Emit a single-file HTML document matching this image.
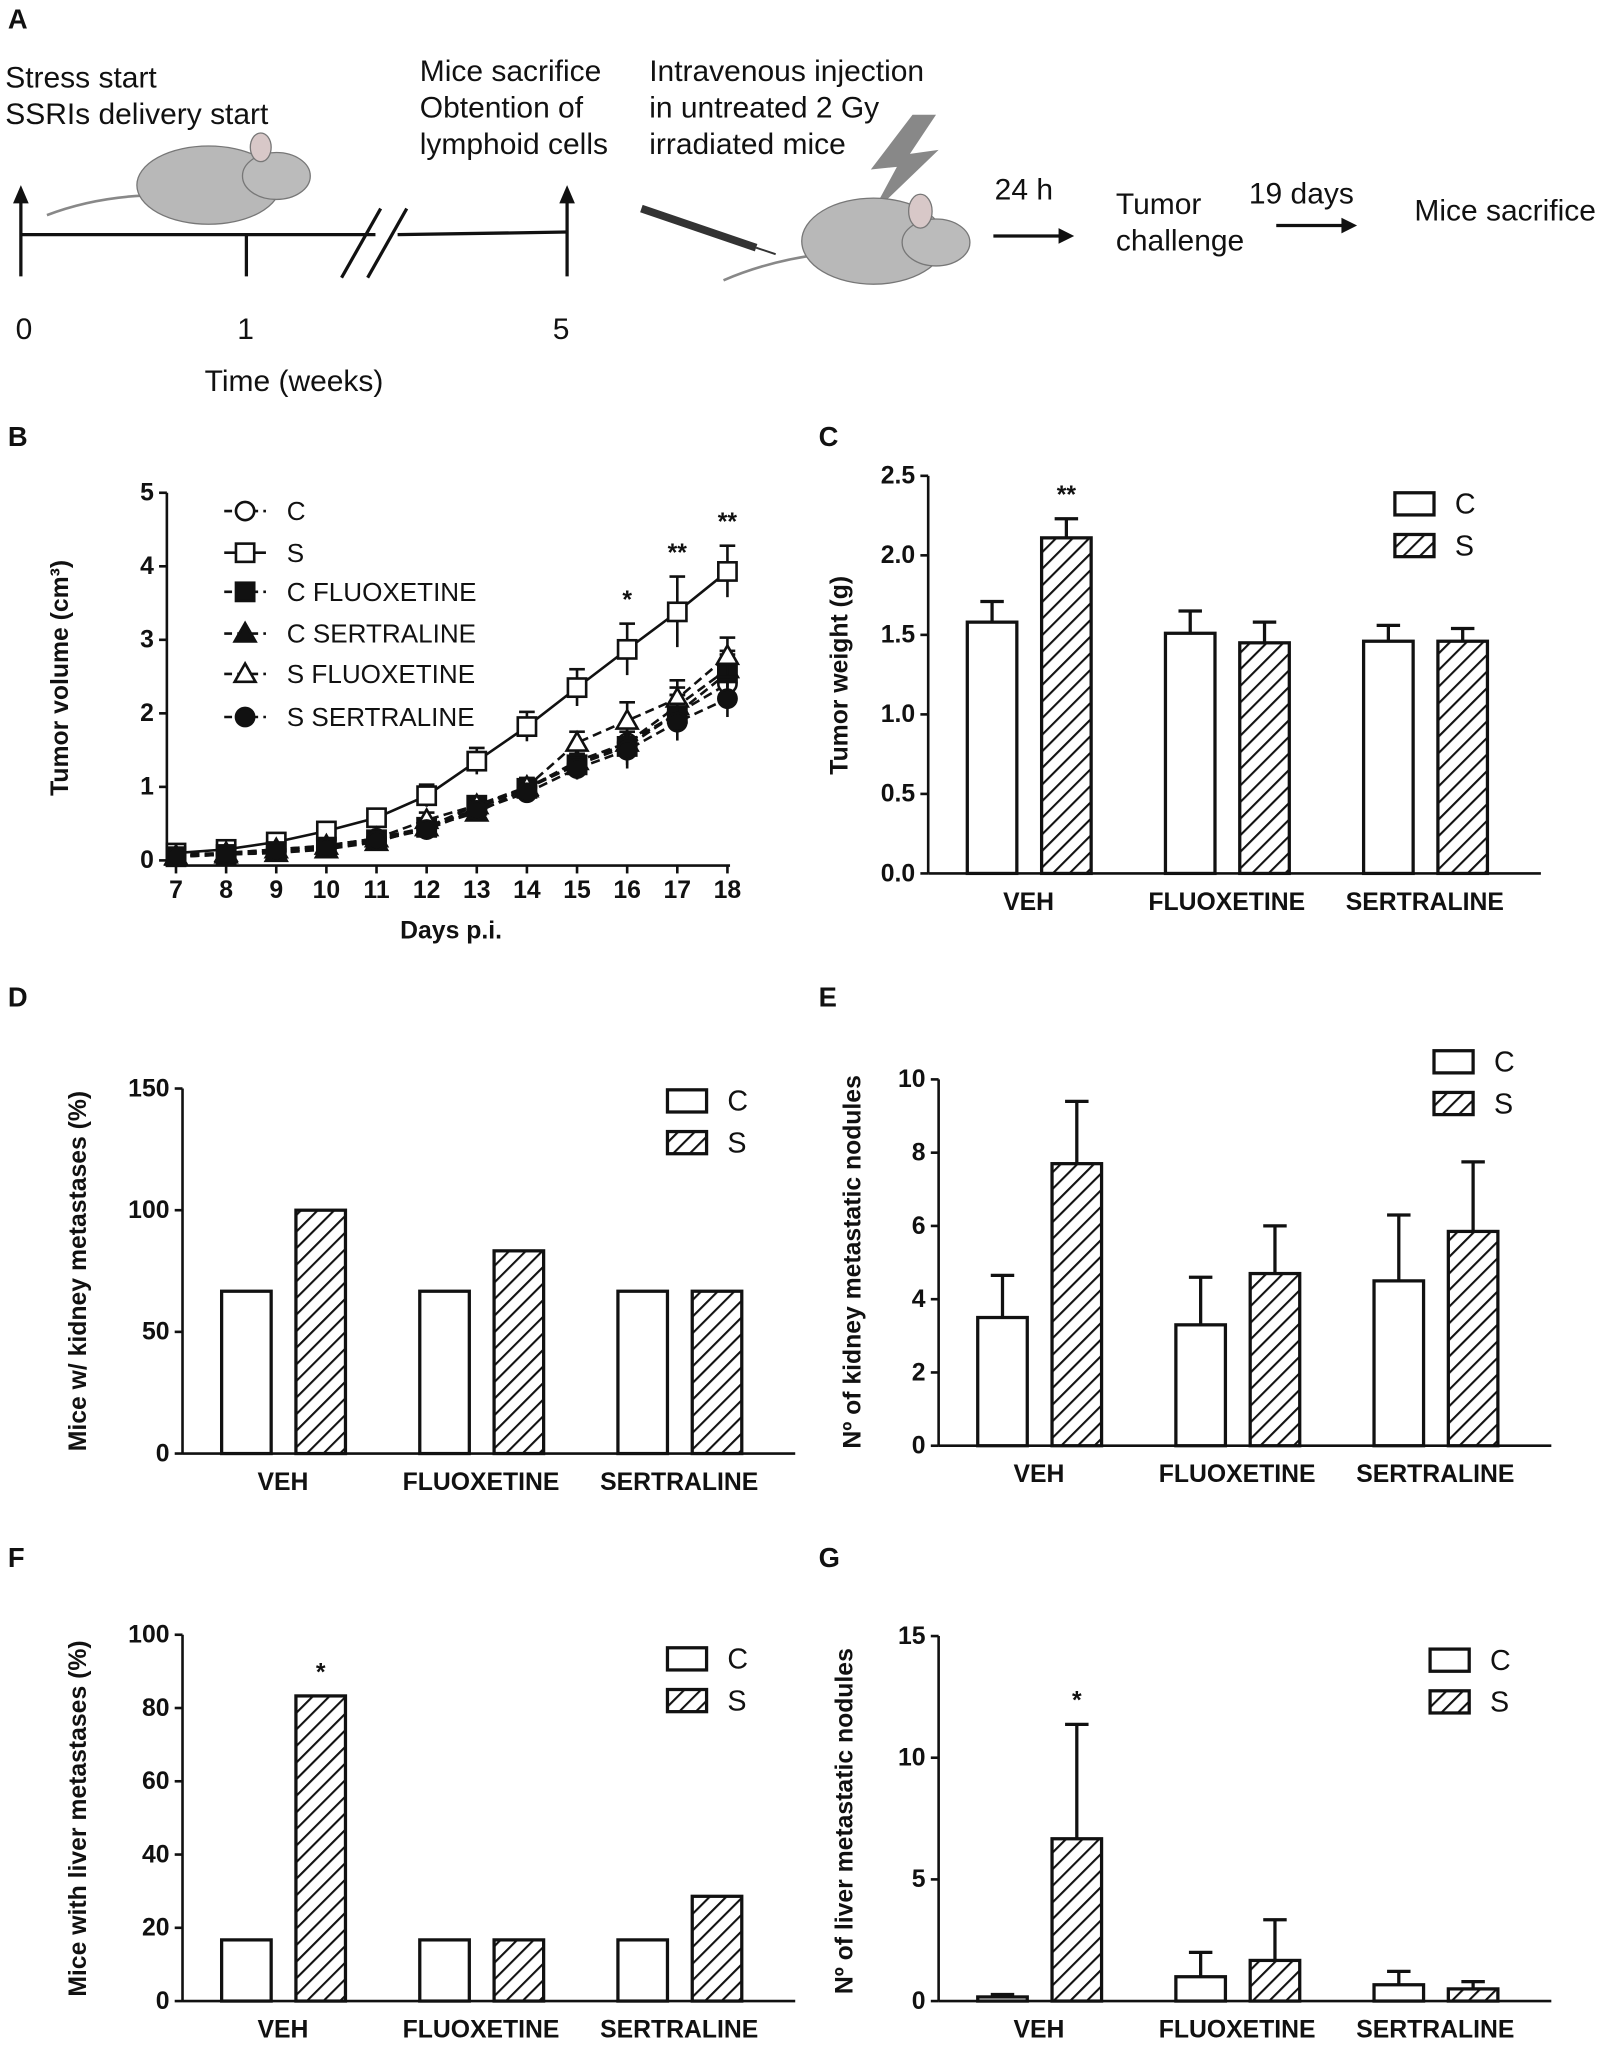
<!DOCTYPE html>
<html><head><meta charset="utf-8"><style>
html,body{margin:0;padding:0;background:#fff}
svg{display:block}
text{font-family:"Liberation Sans",Arial,sans-serif;fill:#111}
.t{font-weight:bold;font-size:19px}
.ax{stroke:#111;stroke-width:2;fill:none}
.lbl{font-size:23px}
</style></head><body>
<svg id="fig" width="1610" height="2048" viewBox="0 0 1235 1571" xmlns="http://www.w3.org/2000/svg">
<defs>
<pattern id="hatch" patternUnits="userSpaceOnUse" width="9" height="9" patternTransform="rotate(45)">
<rect width="9" height="9" fill="#fff"/><line x1="0" y1="0" x2="0" y2="9" stroke="#111" stroke-width="3.2"/>
</pattern>
</defs>
<!-- Panel A -->
<g>
<text x="6" y="22" font-weight="bold" font-size="21">A</text>
<g>
<path d="M36,165 Q70,152 110,150" stroke="#888" stroke-width="2" fill="none"/>
<ellipse cx="160" cy="142" rx="55" ry="30" fill="#b8b8b8" stroke="#777"/>
<ellipse cx="212" cy="135" rx="26" ry="18" fill="#bbb" stroke="#777"/>
<ellipse cx="200" cy="113" rx="8" ry="11" fill="#d8c8c8" stroke="#777"/>
</g>
<text class="lbl" x="4" y="67">Stress start</text>
<text class="lbl" x="4" y="95">SSRIs delivery start</text>
<text class="lbl" x="322" y="62">Mice sacrifice</text>
<text class="lbl" x="322" y="90">Obtention of</text>
<text class="lbl" x="322" y="118">lymphoid cells</text>
<text class="lbl" x="498" y="62">Intravenous injection</text>
<text class="lbl" x="498" y="90">in untreated 2 Gy</text>
<text class="lbl" x="498" y="118">irradiated mice</text>
<g stroke="#111" stroke-width="2.5" fill="none">
<line x1="16" y1="180" x2="288" y2="180"/><line x1="305" y1="180" x2="435" y2="178"/>
<line x1="262" y1="213" x2="292" y2="160"/><line x1="282" y1="213" x2="312" y2="160"/>
<line x1="16" y1="212" x2="16" y2="148"/><line x1="435" y1="212" x2="435" y2="148"/>
<line x1="189" y1="180" x2="189" y2="212"/>
</g>
<polygon points="16,142 10,156 22,156" fill="#111"/><polygon points="435,142 429,156 441,156" fill="#111"/>
<text class="lbl" x="12" y="260" font-size="24">0</text>
<text class="lbl" x="182" y="260" font-size="24">1</text>
<text class="lbl" x="424" y="260" font-size="24">5</text>
<text class="lbl" x="157" y="300" font-size="25">Time (weeks)</text>
<g>
<line x1="492" y1="160" x2="580" y2="190" stroke="#333" stroke-width="6"/>
<line x1="580" y1="190" x2="595" y2="195" stroke="#333" stroke-width="1.5"/>
</g>
<polygon points="700,88 668,130 688,128 668,165 720,115 698,118 718,88" fill="#888"/>
<g>
<path d="M555,215 Q590,200 630,195" stroke="#888" stroke-width="2" fill="none"/>
<ellipse cx="670" cy="185" rx="55" ry="33" fill="#b8b8b8" stroke="#777"/>
<ellipse cx="718" cy="186" rx="26" ry="18" fill="#bbb" stroke="#777"/>
<ellipse cx="706" cy="162" rx="9" ry="13" fill="#d8c8c8" stroke="#777"/>
</g>
<text class="lbl" x="763" y="153">24 h</text>
<line x1="762" y1="181" x2="815" y2="181" stroke="#111" stroke-width="2.5"/><polygon points="824,181 812,175 812,187" fill="#111"/>
<text class="lbl" x="856" y="164">Tumor</text>
<text class="lbl" x="856" y="192">challenge</text>
<text class="lbl" x="958" y="156">19 days</text>
<line x1="979" y1="173" x2="1032" y2="173" stroke="#111" stroke-width="2.5"/><polygon points="1041,173 1029,167 1029,179" fill="#111"/>
<text class="lbl" x="1085" y="169">Mice sacrifice</text>
</g>
<g id="charts"></g>
</svg>
<script>
// Panel B data
const days = [7,8,9,10,11,12,13,14,15,16,17,18];
const seriesNames = ["C","S","C FLUOXETINE","C SERTRALINE","S FLUOXETINE","S SERTRALINE"];
const volC = [0.08,0.1,0.15,0.2,0.3,0.45,0.7,1.0,1.3,1.6,2.0,2.4];
const volS = [0.1,0.15,0.25,0.4,0.58,0.88,1.35,1.82,2.35,2.87,3.38,3.93];
const volCF = [0.05,0.08,0.12,0.18,0.28,0.45,0.75,0.98,1.3,1.55,2.0,2.55];
const volCS = [0.05,0.08,0.1,0.15,0.25,0.45,0.65,0.98,1.35,1.6,2.1,2.6];
const volSF = [0.06,0.1,0.15,0.2,0.3,0.55,0.75,1.0,1.6,1.9,2.2,2.78];
const volSS = [0.05,0.08,0.12,0.17,0.27,0.42,0.68,0.92,1.25,1.5,1.88,2.2];
const errS = [0.05,0.05,0.06,0.08,0.1,0.15,0.18,0.2,0.25,0.35,0.48,0.35];
const errC = [0.03,0.03,0.04,0.05,0.06,0.1,0.12,0.12,0.15,0.25,0.25,0.25];
const volTicks = [0,1,2,3,4,5];
const starsB = {16:"*",17:"**",18:"**"};
// Bar panels data
const groups = ["VEH","FLUOXETINE","SERTRALINE"];
const weightC = [1.58,1.51,1.46], weightS = [2.11,1.45,1.46];
const weightErrC = [0.13,0.14,0.1], weightErrS = [0.12,0.13,0.08];
const weightTicks = ["0.0","0.5","1.0","1.5","2.0","2.5"];
const kidPctC = [66.7,66.7,66.7], kidPctS = [100,83.3,66.7];
const kidPctTicks = [0,50,100,150];
const kidNodC = [3.5,3.3,4.5], kidNodS = [7.7,4.7,5.85];
const kidNodErrC = [1.15,1.3,1.8], kidNodErrS = [1.7,1.3,1.9];
const kidNodTicks = [0,2,4,6,8,10];
const livPctC = [16.7,16.7,16.7], livPctS = [83.3,16.7,28.6];
const livPctTicks = [0,20,40,60,80,100];
const livNodC = [0.17,1.0,0.67], livNodS = [6.67,1.67,0.5];
const livNodErrC = [0.1,1.0,0.55], livNodErrS = [4.7,1.67,0.3];
const livNodTicks = [0,5,10,15];

const NS="http://www.w3.org/2000/svg";
const root=document.getElementById('charts');
function mk(tag,attrs,parent,txt){const e=document.createElementNS(NS,tag);for(const k in attrs)e.setAttribute(k,attrs[k]);if(txt!==undefined)e.textContent=txt;(parent||root).appendChild(e);return e;}

// ---- Panel B ----
const gB=mk('g',{});


const bx0=135,bx1=558,by0=660,by1=378;
const xB=d=>bx0+(d-7)*(bx1-bx0)/11;
const yB=v=>by0-v*(by0-by1)/5;
let t=mk('text',{x:6,y:342,'font-weight':'bold','font-size':21},gB,'B');


mk('line',{x1:128,y1:by1,x2:128,y2:by0,class:'ax'},gB);
mk('line',{x1:128,y1:by0+4,x2:bx1+2,y2:by0+4,class:'ax'},gB);
volTicks.forEach(v=>{mk('line',{x1:122,y1:yB(v),x2:128,y2:yB(v),class:'ax'},gB);
 const e=mk('text',{x:118,y:yB(v)+6,class:'t','text-anchor':'end'},gB,v);
 
 });
days.forEach(d=>{mk('line',{x1:xB(d),y1:by0+4,x2:xB(d),y2:by0+10,class:'ax'},gB);
 const e=mk('text',{x:xB(d),y:by0+29,class:'t','text-anchor':'middle'},gB,d);
 
 });
t=mk('text',{x:346,y:720,class:'t','font-size':21,'text-anchor':'middle'},gB,'Days p.i.');


t=mk('text',{transform:'translate(52,520) rotate(-90)',class:'t','font-size':21,'text-anchor':'middle'},gB,'Tumor volume (cm³)');


const series=[[volC,'circle','#fff',true,errC],[volS,'square','#fff',false,errS],[volCF,'square','#111',true,errC],[volCS,'tri','#111',true,errC],[volSF,'tri','#fff',true,errC],[volSS,'circle','#111',true,errC]];
function marker(g,type,fill,x,y){
 if(type==='circle')return mk('circle',{cx:x,cy:y,r:7,fill:fill,stroke:'#111','stroke-width':2},g);
 if(type==='square')return mk('rect',{x:x-7,y:y-7,width:14,height:14,fill:fill,stroke:'#111','stroke-width':2},g);
 return mk('polygon',{points:`${x},${y-8} ${x-8},${y+6} ${x+8},${y+6}`,fill:fill,stroke:'#111','stroke-width':2},g);}
series.forEach((s,i)=>{
 const g=mk('g',{},gB);
 
 
 s[0].forEach((v,j)=>{const x=xB(days[j]);mk('line',{x1:x,y1:yB(v+s[4][j]),x2:x,y2:yB(Math.max(0,v-s[4][j])),stroke:'#111','stroke-width':2},g);
  mk('line',{x1:x-6,y1:yB(v+s[4][j]),x2:x+6,y2:yB(v+s[4][j]),stroke:'#111','stroke-width':2},g);});
 mk('polyline',{points:s[0].map((v,j)=>xB(days[j])+','+yB(v)).join(' '),fill:'none',stroke:'#111','stroke-width':2,'stroke-dasharray':s[3]?'7,4':''},g);
 s[0].forEach((v,j)=>{const m=marker(g,s[1],s[2],xB(days[j]),yB(v));
  
  });
 const ly=[392,424,454,486,517,550][i];
 mk('line',{x1:172,y1:ly,x2:204,y2:ly,stroke:'#111','stroke-width':2,'stroke-dasharray':s[3]?'6,4':''},g);
 marker(g,s[1],s[2],188,ly);
 const e=mk('text',{x:220,y:ly+7,'font-size':20},g,seriesNames[i]);
 
 
});
Object.keys(starsB).forEach(d=>{const i=days.indexOf(+d);
 const e=mk('text',{x:xB(+d),y:yB(volS[i]+errS[i])-12,class:'t','font-size':21,'text-anchor':'middle'},gB,starsB[d]);
 
 });

// ---- Bar panels ----
function barPanel(o){
 const g=mk('g',{});
 
 
 const y=v=>o.y0-v*(o.y0-o.y1)/o.max;
 let e=mk('text',{x:o.lx,y:o.ly,'font-weight':'bold','font-size':21},g,o.letter);
 
 
 mk('line',{x1:o.ax,y1:o.y1,x2:o.ax,y2:o.y0,class:'ax'},g);
 mk('line',{x1:o.ax,y1:o.y0,x2:o.ax+470,y2:o.y0,class:'ax'},g);
 o.ticks.forEach(tk=>{const v=parseFloat(tk);mk('line',{x1:o.ax-6,y1:y(v),x2:o.ax,y2:y(v),class:'ax'},g);
  const t=mk('text',{x:o.ax-10,y:y(v)+6,class:'t','text-anchor':'end'},g,tk);
  
  });
 groups.forEach((gr,i)=>{
  const bx=o.ax+30+i*152;
  [[o.c,o.ec,'#fff',0],[o.s,o.es,'url(#hatch)',57]].forEach(([vals,errs,fill,off],k)=>{
   const x=bx+off,v=vals[i];
   if(errs){const top=y(v+errs[i]);mk('line',{x1:x+19,y1:top,x2:x+19,y2:y(v),stroke:'#111','stroke-width':2.5},g);
    mk('line',{x1:x+10,y1:top,x2:x+28,y2:top,stroke:'#111','stroke-width':2.5},g);}
   const r=mk('rect',{x:x,y:y(v),width:38,height:o.y0-y(v),fill:fill,stroke:'#111','stroke-width':2.5},g);
   
   
  });
  const t=mk('text',{x:bx+47,y:o.y0+28,class:'t','font-size':20,'text-anchor':'middle'},g,gr);
  
  
 });
 if(o.star){const i=0;const v=o.s[i]+(o.es?o.es[i]:0);
  e=mk('text',{x:o.ax+30+57+19,y:y(v)-12,class:'t','font-size':21,'text-anchor':'middle'},g,o.star);
  
  }
 e=mk('text',{transform:`translate(${o.tx},${o.ty}) rotate(-90)`,class:'t','font-size':21,'text-anchor':'middle'},g,o.title);
 
 
 [['C','#fff'],['S','url(#hatch)']].forEach(([n,f],k)=>{
  mk('rect',{x:o.legx,y:o.legy+k*32-8,width:30,height:17,fill:f,stroke:'#111','stroke-width':2.5},g);
  const t=mk('text',{x:o.legx+46,y:o.legy+k*32+8,'font-size':22},g,n);
  
  
 });
}
barPanel({letter:'C',lx:628,ly:342,ax:712,y0:670,y1:365,max:2.5,ticks:weightTicks,c:weightC,s:weightS,ec:weightErrC,es:weightErrS,star:'**',title:'Tumor weight (g)',tx:650,ty:518,legx:1070,legy:386});
barPanel({letter:'D',lx:6,ly:772,ax:140,y0:1115,y1:835,max:150,ticks:kidPctTicks.map(String),c:kidPctC,s:kidPctS,title:'Mice w/ kidney metastases (%)',tx:66,ty:975,legx:512,legy:844});
barPanel({letter:'E',lx:628,ly:772,ax:720,y0:1109,y1:828,max:10,ticks:kidNodTicks.map(String),c:kidNodC,s:kidNodS,ec:kidNodErrC,es:kidNodErrS,title:'Nº of kidney metastatic nodules',tx:660,ty:968,legx:1100,legy:814});
barPanel({letter:'F',lx:6,ly:1202,ax:140,y0:1535,y1:1254,max:100,ticks:livPctTicks.map(String),c:livPctC,s:livPctS,star:'*',title:'Mice with liver metastases (%)',tx:66,ty:1395,legx:512,legy:1272});
barPanel({letter:'G',lx:628,ly:1202,ax:720,y0:1535,y1:1255,max:15,ticks:livNodTicks.map(String),c:livNodC,s:livNodS,ec:livNodErrC,es:livNodErrS,star:'*',title:'Nº of liver metastatic nodules',tx:654,ty:1397,legx:1097,legy:1273});
</script>
</body></html>
